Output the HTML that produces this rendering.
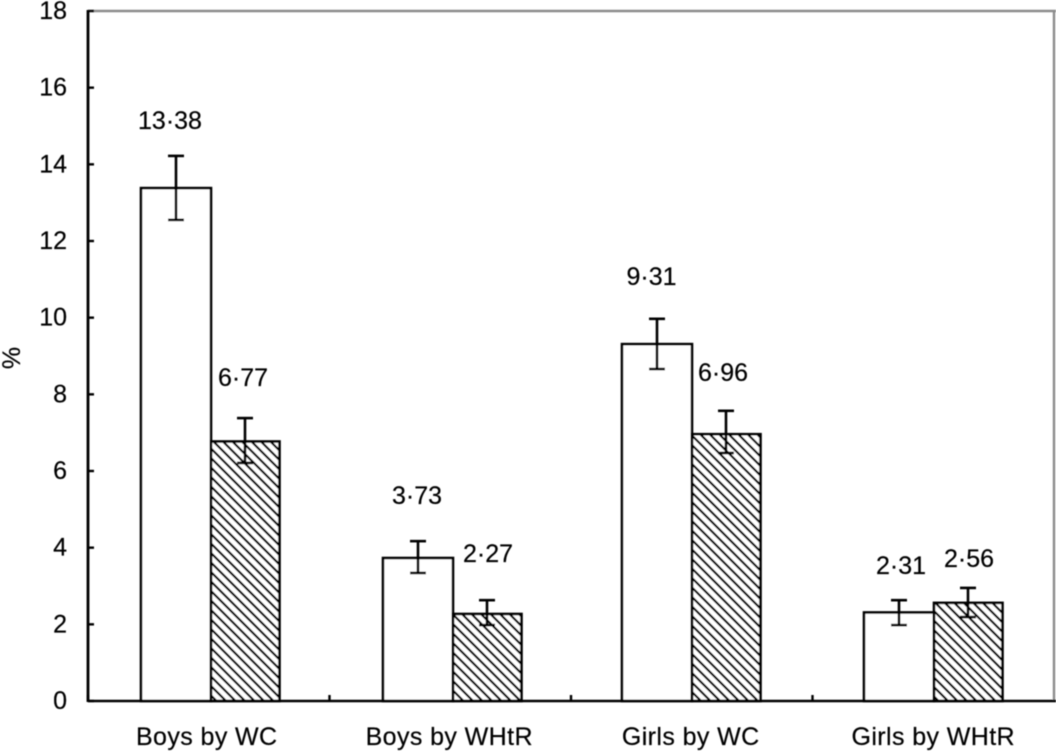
<!DOCTYPE html>
<html>
<head>
<meta charset="utf-8">
<title>Prevalence by group</title>
<style>
html,body{margin:0;padding:0;background:#fff;width:1056px;height:752px;overflow:hidden}
svg{display:block}
text{font-family:"Liberation Sans",sans-serif;fill:#000;stroke:#000;stroke-width:0.2px}
</style>
</head>
<body>
<svg id="chart" xmlns="http://www.w3.org/2000/svg" width="1056" height="752" viewBox="0 0 1056 752">
<defs>
<pattern id="hatch" width="9.5" height="9.5" patternUnits="userSpaceOnUse">
<rect width="9.5" height="9.5" fill="#fff"/>
<path d="M-2,-2 L11.5,11.5 M-2,7.5 L2,11.5 M7.5,-2 L11.5,2" stroke="#000" stroke-width="2.3"/>
</pattern>
<filter id="soft" x="-2%" y="-2%" width="104%" height="104%"><feGaussianBlur stdDeviation="0.4"/></filter>
</defs>
<g id="root" filter="url(#soft)"></g>
</svg>
<script>
var categories = ["Boys by WC", "Boys by WHtR", "Girls by WC", "Girls by WHtR"];
var whiteValues = [13.38, 3.73, 9.31, 2.31];
var hatchedValues = [6.77, 2.27, 6.96, 2.56];
var whiteErrLow = [12.55, 3.34, 8.66, 1.98];
var whiteErrHigh = [14.22, 4.17, 9.97, 2.63];
var hatchedErrLow = [6.21, 1.98, 6.47, 2.19];
var hatchedErrHigh = [7.38, 2.63, 7.57, 2.95];
var whiteLabels = ["13·38", "3·73", "9·31", "2·31"];
var hatchedLabels = ["6·77", "2·27", "6·96", "2·56"];
var yTicks = [0, 2, 4, 6, 8, 10, 12, 14, 16, 18];

var NS = "http://www.w3.org/2000/svg";
var root = document.getElementById("root");
var plot = {left: 88, right: 1054, top: 11, bottom: 701, yMax: 18};
var whiteW = 70;
var hatchedW = 68.5;
var whiteErrOffset = 35;
var hatchedErrOffset = 34;
var capHalf = 8;
var centerNudge = [2.25, 2.75, 0.25, 0.75];
var whiteNudge = [[-6, -35], [-1, -45], [-5.5, -42], [2, -34]];
var hatchedNudge = [[-2, -40], [1, -46], [-3, -38], [1, -29]];
var catLabelNudge = [-2, -1, -1, 0];

function yScale(v) {
  return plot.bottom - (v / plot.yMax) * (plot.bottom - plot.top);
}
function bandStep() {
  return (plot.right - plot.left) / categories.length;
}
function bandCenter(i) {
  return plot.left + bandStep() * (i + 0.5);
}
function barCenter(i) {
  return bandCenter(i) + centerNudge[i];
}
function make(tag, attrs, parent) {
  var el = document.createElementNS(NS, tag);
  for (var k in attrs) el.setAttribute(k, attrs[k]);
  (parent || root).appendChild(el);
  return el;
}
function line(x1, y1, x2, y2, w, c, parent) {
  return make("line", {x1: x1, y1: y1, x2: x2, y2: y2, stroke: c || "#000", "stroke-width": w || 2}, parent);
}
function label(str, x, y, size, anchor) {
  var t = make("text", {x: x, y: y, "font-size": size, "text-anchor": anchor || "middle", "dominant-baseline": "central"});
  t.textContent = str;
  return t;
}

/* plot frame */
var frameTop = line(plot.left, plot.top, plot.right + 2, plot.top, 2.4, "#8c8c8c");


var frameRight = line(plot.right, plot.top, plot.right, plot.bottom, 2.4, "#8c8c8c");



/* bars */
categories.forEach(function (cat, i) {
  var c = barCenter(i);
  var wTop = yScale(whiteValues[i]);
  var hTop = yScale(hatchedValues[i]);
  var wBar = make("rect", {x: c - whiteW, y: wTop, width: whiteW, height: plot.bottom - wTop, fill: "#fff", stroke: "#000", "stroke-width": 2.6});
  
  
  var hBar = make("rect", {x: c, y: hTop, width: hatchedW, height: plot.bottom - hTop, fill: "url(#hatch)", stroke: "#000", "stroke-width": 2.6});
  
  
});

/* error bars */
function errorBar(x, lo, hi, name) {
  var g = make("g", {});
  
  
  line(x, yScale(lo), x, yScale(hi), 2.6, "#000", g);
  line(x - capHalf, yScale(lo), x + capHalf, yScale(lo), 2.6, "#000", g);
  line(x - capHalf, yScale(hi), x + capHalf, yScale(hi), 2.6, "#000", g);
}
categories.forEach(function (cat, i) {
  var c = barCenter(i);
  errorBar(c - whiteErrOffset, whiteErrLow[i], whiteErrHigh[i], 'error-bar-white-' + i);
  errorBar(c + hatchedErrOffset, hatchedErrLow[i], hatchedErrHigh[i], 'error-bar-hatched-' + i);
});

/* value labels */
categories.forEach(function (cat, i) {
  var c = barCenter(i);
  var a = label(whiteLabels[i], c - whiteErrOffset + whiteNudge[i][0], yScale(whiteErrHigh[i]) + whiteNudge[i][1], 25);
  
  
  var b = label(hatchedLabels[i], c + hatchedErrOffset + hatchedNudge[i][0], yScale(hatchedErrHigh[i]) + hatchedNudge[i][1], 25);
  
  
});

/* axes */
var yAxis = line(plot.left, plot.top - 1, plot.left, plot.bottom + 1, 2.8);


var xAxis = line(plot.left, plot.bottom, plot.right + 2, plot.bottom, 2.6);



yTicks.forEach(function (v) {
  var y = yScale(v);
  var t = line(plot.left, y, plot.left + 6, y, 2.4);
  
  
  var l = label(String(v), 67, y, 25, "end");
  
  
});

categories.forEach(function (cat, i) {
  var x = plot.left + bandStep() * i;
  var t = line(x, plot.bottom, x, plot.bottom - 6, 2.4);
  
  
  var l = label(cat, bandCenter(i) + catLabelNudge[i], 737, 25);
  l.setAttribute('letter-spacing', '0.4');
  
  
});

var yTitle = label("%", 0, 0, 25);
yTitle.setAttribute("transform", "translate(12,358) rotate(-90)");


</script>
</body>
</html>
